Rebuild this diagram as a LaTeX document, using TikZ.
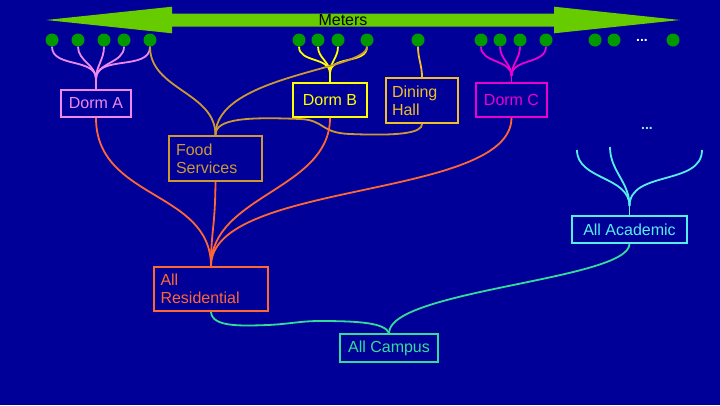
\documentclass[tikz,border=0pt]{standalone}
\usepackage{fontspec}
\setmainfont{Liberation Sans}
\definecolor{bg}{RGB}{0,0,153}
\definecolor{arrowgreen}{RGB}{102,204,0}
\definecolor{dotgreen}{RGB}{0,153,0}
\definecolor{cA}{RGB}{238,136,238}
\definecolor{cB}{RGB}{255,255,0}
\definecolor{cD}{RGB}{240,190,40}
\definecolor{cC}{RGB}{235,0,205}
\definecolor{cF}{RGB}{204,153,51}
\definecolor{cR}{RGB}{255,102,51}
\definecolor{cK}{RGB}{85,238,238}
\definecolor{cM}{RGB}{51,221,153}
\begin{document}
\begin{tikzpicture}[x=1pt,y=-1pt,
  dot/.style={circle, fill=dotgreen, minimum size=13pt, inner sep=0pt},
  box/.style={draw=#1, text=#1, line width=1.8pt, inner sep=0pt,
    font=\fontsize{16}{18}\selectfont},
  mbox/.style={draw=#1, text=#1, line width=1.8pt, inner ysep=0pt,
    align=left, font=\fontsize{16}{18}\selectfont},
  wire/.style={draw=#1, line width=1.8pt},
  branch/.style={out=-90,in=90},
  ellip/.style={font=\bfseries\fontsize{14}{16}\selectfont, inner sep=0pt}]
\fill[bg] (0,0) rectangle (720,405);
\useasboundingbox (0,0) rectangle (720,405);
% scale arrow
\fill[arrowgreen] (46,20) -- (172,6.7) -- (172,13.5) -- (554,13.5) -- (554,6.7)
  -- (680,20) -- (554,33.3) -- (554,26.7) -- (172,26.7) -- (172,33.3) -- cycle;
\node[font=\fontsize{16}{18}\selectfont, text=black] (meters) at (343,20) {Meters};
% dots
\foreach \n/\x in {a1/52,a2/78,a3/104,a4/124,a5/150,b1/299,b2/318,b3/338,b4/367,
  h1/418,c1/481,c2/500,c3/520,c4/546,e1/595,e2/614,e3/673}
  \node[dot] (\n) at (\x,40) {};
\node[ellip, text=white] (dotsmore) at (642,40) {...};
\node[ellip, text=cK!70!white] (acmore) at (647,128) {...};
% boxes
\node[box=cA, minimum width=70pt, minimum height=27pt] (dormA) at (96,103.5) {Dorm A};
\node[box=cB, minimum width=74pt, minimum height=34pt] (dormB) at (330,100) {Dorm B};
\node[mbox=cD, inner xsep=6pt, text width=60pt, minimum height=45pt] (dining) at (422,100.5) {Dining\\Hall};
\node[box=cC, minimum width=71pt, minimum height=34pt] (dormC) at (511.5,100) {Dorm C};
\node[mbox=cF, inner xsep=7pt, text width=79pt, minimum height=45pt] (food) at (215.5,158.5) {Food\\Services};
\node[mbox=cR, inner xsep=6.5pt, text width=101pt, minimum height=44pt] (allres) at (211,289) {All\\Residential};
\node[box=cK, minimum width=115pt, minimum height=27pt] (allac) at (629.5,229.5) {All Academic};
\node[box=cM, minimum width=98pt, minimum height=28pt] (allcamp) at (389,348) {All Campus};
% junctions
\coordinate (jA) at (96,79);
\coordinate (jB) at (330,73);
\coordinate (jC) at (511.5,76);
\coordinate (jK) at (629.5,206);
\coordinate (k1) at (577,150);
\coordinate (k2) at (610,147);
\coordinate (k3) at (702,150);
% Dorm A
\foreach \n in {a1,a2,a3,a4,a5}
  \draw[wire=cA] (\n.south) to[branch] (jA);
\draw[wire=cA] (jA) -- (dormA.north);
% Dorm B
\foreach \n in {b1,b2,b3,b4}
  \draw[wire=cB] (\n.south) to[branch] (jB);
\draw[wire=cB] (jB) -- (dormB.north);
% Dorm C
\foreach \n in {c1,c2,c3,c4}
  \draw[wire=cC] (\n.south) to[branch] (jC);
\draw[wire=cC] (jC) -- (dormC.north);
% Dining hall
\draw[wire=cD] (h1.south) to[branch] (dining.north);
% Food services
\draw[wire=cF] (a5.south) to[branch] (food.north);
\draw[wire=cF] (b4.south) .. controls (367,70) and (215,75) .. (food.north);
\draw[wire=cF] (food.north) .. controls (215,118) and (250,117) .. (300,119)
  .. controls (325,120) and (320,133) .. (350,134)
  .. controls (400,136) and (422,133) .. (dining.south);
% to All Residential
\draw[wire=cR] (dormA.south) .. controls (96,200) and (211,190) .. (allres.north);
\draw[wire=cR] (food.south) .. controls (215,230) and (211,230) .. (allres.north);
\draw[wire=cR] (dormB.south) .. controls (330,190) and (211,195) .. (allres.north);
\draw[wire=cR] (dormC.south) .. controls (511,200) and (211,180) .. (allres.north);
% All Academic
\foreach \n in {k1,k2,k3}
  \draw[wire=cK] (\n) to[branch] (jK);
\draw[wire=cK] (jK) -- (allac.north);
% to All Campus
\draw[wire=cM] (allres.south) .. controls (212,327) and (240,326) .. (268,325)
  .. controls (290,324) and (300,321) .. (320,321)
  .. controls (360,321) and (385,323) .. (allcamp.north);
\draw[wire=cM] (allac.south) .. controls (629,280) and (389,290) .. (allcamp.north);
\end{tikzpicture}
\end{document}
